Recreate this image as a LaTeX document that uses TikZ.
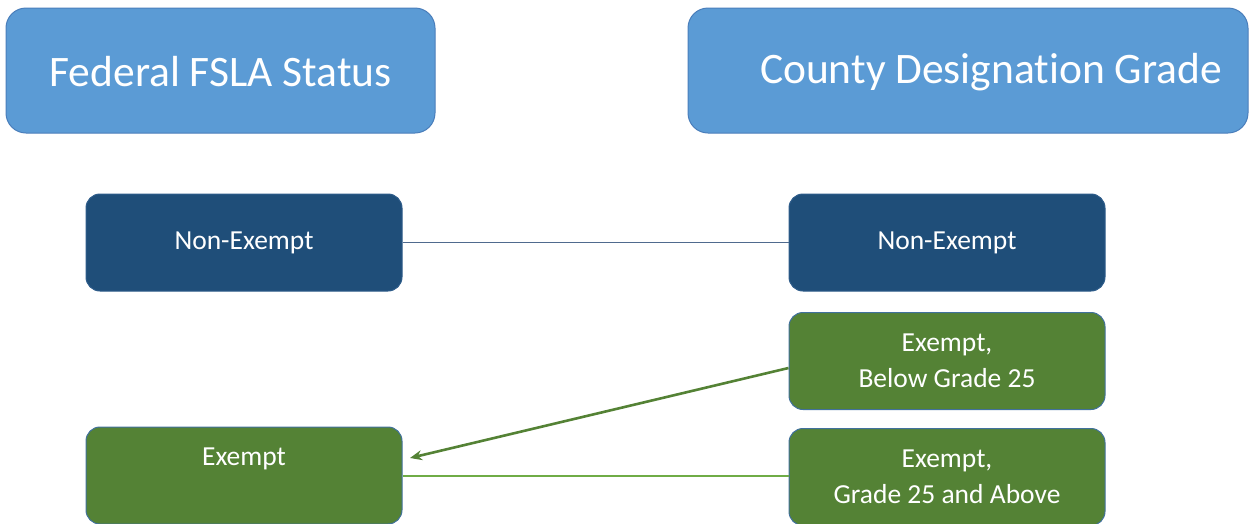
\documentclass[tikz,border=0pt]{standalone}
\usepackage{fontspec}
\setmainfont{Carlito}[Ligatures=NoCommon]
\usetikzlibrary{arrows.meta}
\definecolor{hdr}{HTML}{5B9BD5}
\definecolor{hdrb}{HTML}{4A7EBB}
\definecolor{navy}{HTML}{1F4E79}
\definecolor{navyb}{HTML}{2E5C8A}
\definecolor{grn}{HTML}{548235}
\definecolor{grnb}{HTML}{41719C}
\definecolor{lgrn}{HTML}{6FAC46}
\definecolor{ncon}{HTML}{4F6A8E}
\tikzset{
  hdrbox/.style={draw=hdrb, fill=hdr, line width=1pt, rounded corners=20pt},
  hdrtxt/.style={text=white, font=\fontsize{43.5}{46}\selectfont},
  navybox/.style={draw=navyb, fill=navy, line width=1pt, rounded corners=14pt, minimum width=316pt, minimum height=97pt, text=white, font=\fontsize{27.5}{36}\selectfont, align=center},
  grnbox/.style={draw=grnb, fill=grn, line width=1pt, rounded corners=14pt, minimum width=316pt, minimum height=97pt, text=white, font=\fontsize{27.5}{36}\selectfont, align=center},
  lbl/.style={text=white, font=\fontsize{27.5}{36}\selectfont},
}
\begin{document}
\begin{tikzpicture}[x=1pt,y=-1pt]
\useasboundingbox (0,0) rectangle (1254,523);
\node[hdrbox, minimum width=429pt, minimum height=125pt] (fed) at (220.5,70.5) {};
\node[hdrtxt] (fedt) at (220.5,72) {Federal FSLA Status};
\node[hdrbox, minimum width=560pt, minimum height=125pt] (cty) at (968,70.5) {};
\node[hdrtxt] (ctyt) at (991,72) {County Designation Grade};
\node[navybox] (neL) at (244,242.5) {Non-Exempt};
\node[navybox] (neR) at (947,242.5) {Non-Exempt};
\node[grnbox] (exB) at (947,361) {Exempt,\\Below Grade 25};
\node[grnbox] (exA) at (947,477) {Exempt,\\Grade 25 and Above};
\node[grnbox] (exL) at (244,475.5) {};
\node[lbl] (exLt) at (244,459) {Exempt};
\draw[ncon, line width=1.2pt] (neL.east) -- (neR.west);
\draw[lgrn, line width=2pt] (exL.east) -- ([yshift=1.5pt]exA.west);
\coordinate (tip) at (410,458);
\draw[grn, line width=2.6pt, -{Stealth[length=12pt,width=10pt]}] ([yshift=-7pt]exB.west) -- (tip);
\end{tikzpicture}
\end{document}
